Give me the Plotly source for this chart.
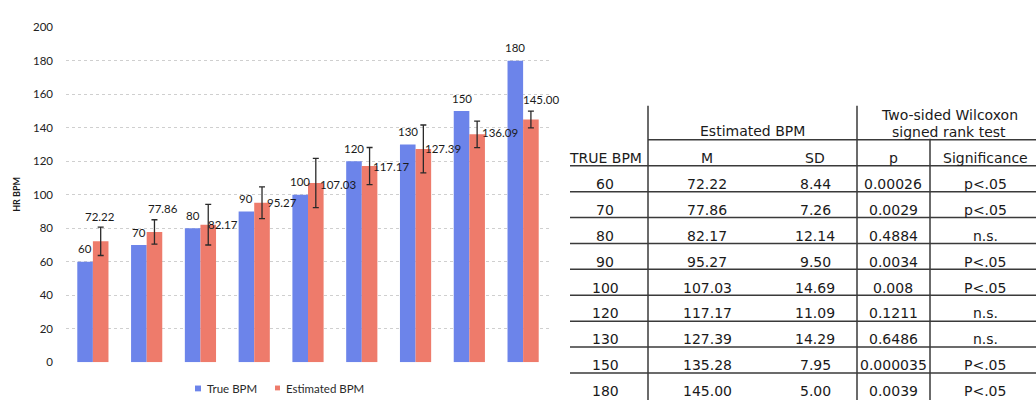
import plotly.graph_objects as go

# ---- data -------------------------------------------------------------
true_bpm = [60, 70, 80, 90, 100, 120, 130, 150, 180]
est_bar = [72.22, 77.86, 82.17, 95.27, 107.03, 117.17, 127.39, 136.09, 145.00]
est_bar_sd = [8.44, 7.26, 12.14, 9.50, 14.69, 11.09, 14.29, 7.95, 5.00]
bar_labels_true = ["60", "70", "80", "90", "100", "120", "130", "150", "180"]
bar_labels_est = ["72.22", "77.86", "82.17", "95.27", "107.03", "117.17",
                  "127.39", "136.09", "145.00"]

table_true = ["60", "70", "80", "90", "100", "120", "130", "150", "180"]
table_mean = ["72.22", "77.86", "82.17", "95.27", "107.03", "117.17",
              "127.39", "135.28", "145.00"]
table_sd = ["8.44", "7.26", "12.14", "9.50", "14.69", "11.09", "14.29",
            "7.95", "5.00"]
table_p = ["0.00026", "0.0029", "0.4884", "0.0034", "0.008", "0.1211",
           "0.6486", "0.000035", "0.0039"]
table_sig = ["p<.05", "p<.05", "n.s.", "P<.05", "P<.05", "n.s.", "n.s.",
             "P<.05", "P<.05"]

y_ticks = [0, 20, 40, 60, 80, 100, 120, 140, 160, 180, 200]

# ---- styling ----------------------------------------------------------
W, H = 1036, 408
BLUE = "#6c84ea"
RED = "#ee7b6b"
TXT = "#1a1a1a"
LBL_FONT = dict(family="Lato", size=11.5, color=TXT)

# pixel offsets (right, up) of the estimated-value labels from the bar tops
est_label_dx = [-1, 9, 15, 20, 22, 21, 20, 23, 10]
est_label_dy = [25, 23, 0, 0, -1, 0, 0, 2, 20]
BAR_HALF = 7.75  # half of one bar's width in px


def px(x):
    return x / W


def py(y):
    return 1 - y / H


pos = list(range(len(true_bpm)))  # one slot per TRUE BPM group

fig = go.Figure()
fig.add_trace(go.Bar(x=pos, y=true_bpm, name="True BPM",
                     marker=dict(color=BLUE, line=dict(width=0))))
fig.add_trace(go.Bar(x=pos, y=est_bar, name="Estimated BPM",
                     marker=dict(color=RED, line=dict(width=0)),
                     error_y=dict(type="data", array=est_bar_sd, color="#2a2a2a",
                                  thickness=1.3, width=3)))

annotations = []
# value labels
for p, v, t in zip(pos, true_bpm, bar_labels_true):
    annotations.append(dict(x=p, y=v, xref="x", yref="y", text=t, showarrow=False,
                            xanchor="center", yanchor="middle",
                            xshift=-BAR_HALF, yshift=13, font=LBL_FONT))
for p, v, t, dx, dy in zip(pos, est_bar, bar_labels_est, est_label_dx, est_label_dy):
    annotations.append(dict(x=p, y=v, xref="x", yref="y", text=t, showarrow=False,
                            xanchor="center", yanchor="middle",
                            xshift=BAR_HALF + dx, yshift=dy, font=LBL_FONT))

# y-axis title
annotations.append(dict(x=px(17), y=py(194), xref="paper", yref="paper",
                        xanchor="center", yanchor="middle",
                        text="<b>HR BPM</b>", textangle=-90, showarrow=False,
                        font=dict(family="Lato", size=9, color=TXT)))

# legend
shapes = []
shapes.append(dict(type="rect", xref="paper", yref="paper",
                   x0=px(195), x1=px(201), y0=py(397), y1=py(391),
                   fillcolor=BLUE, line=dict(width=0)))
annotations.append(dict(x=px(205), y=py(394), xref="paper", yref="paper",
                        text="True BPM", showarrow=False,
                        xanchor="left", yanchor="middle",
                        font=dict(family="Lato", size=11.5, color="#2a2a2a")))
shapes.append(dict(type="rect", xref="paper", yref="paper",
                   x0=px(275), x1=px(280), y0=py(396), y1=py(391),
                   fillcolor=RED, line=dict(width=0)))
annotations.append(dict(x=px(284), y=py(394), xref="paper", yref="paper",
                        text="Estimated BPM", showarrow=False,
                        xanchor="left", yanchor="middle",
                        font=dict(family="Lato", size=11.5, color="#2a2a2a")))

# ---- table ------------------------------------------------------------
TFONT = dict(family="DejaVu Sans", size=14, color=TXT)
LINE = dict(color="#3a3a3a", width=1.5)
col_x = [605, 707, 815, 893, 985]
first_rule = 164
row_step = 26.75


def hline(y, x0, x1):
    shapes.append(dict(type="line", xref="paper", yref="paper",
                       x0=px(x0), x1=px(x1), y0=py(y), y1=py(y), line=LINE))


def vline(x, y0, y1):
    shapes.append(dict(type="line", xref="paper", yref="paper",
                       x0=px(x), x1=px(x), y0=py(y0), y1=py(y1), line=LINE))


def cell(x, y, text):
    annotations.append(dict(x=px(x), y=py(y), xref="paper", yref="paper",
                            xanchor="center", yanchor="middle",
                            text=text, showarrow=False, font=TFONT))


vline(648, 102, 406)
vline(857, 102, 406)
vline(930, 136, 406)
hline(137, 648, 1036)
hline(first_rule, 570, 1036)

cell(752, 128, "Estimated BPM")
cell(949, 112, "Two-sided Wilcoxon")
cell(949, 129, "signed rank test")
for x, t in zip(col_x, ["TRUE BPM", "M", "SD", "p", "Significance"]):
    cell(x, 156, t)

rows = list(zip(table_true, table_mean, table_sd, table_p, table_sig))
for i, row in enumerate(rows):
    rule_y = first_rule + row_step * (i + 1)
    for x, t in zip(col_x, row):
        cell(x, rule_y - 8, t)
    if i < len(rows) - 1:
        hline(rule_y, 570, 1036)

fig.update_layout(
    width=W, height=H,
    margin=dict(l=0, r=0, t=0, b=0),
    paper_bgcolor="white", plot_bgcolor="white",
    barmode="group", bargap=0.42, bargroupgap=0,
    showlegend=False,
    xaxis=dict(domain=[px(66), px(550)], range=[-0.5, len(pos) - 0.5],
               showticklabels=False, showgrid=False, zeroline=False,
               showline=False, ticks=""),
    yaxis=dict(domain=[py(367), py(21)], range=[0, 200],
               tickvals=y_ticks, ticks="", ticklabelstandoff=12,
               tickfont=dict(family="Lato", size=11.5, color="#222222"),
               showgrid=True, gridcolor="#cfcfcf", griddash="dot", gridwidth=1,
               zeroline=False, showline=False),
    annotations=annotations,
    shapes=shapes,
)

fig.write_html("out.html")
